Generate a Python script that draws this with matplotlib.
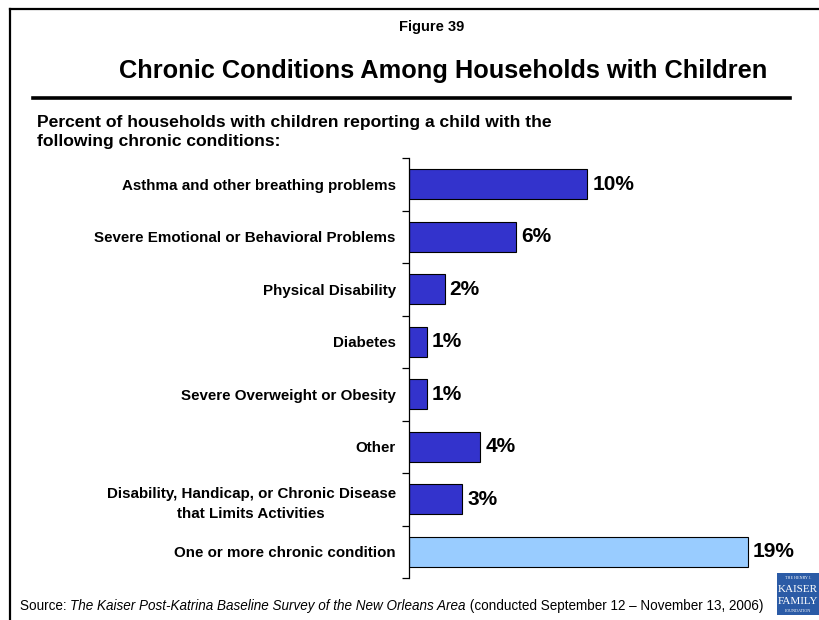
import matplotlib
matplotlib.use("Agg")
import matplotlib.pyplot as plt
from matplotlib.patches import Rectangle
from matplotlib.lines import Line2D

plt.rcParams['font.family'] = ['Liberation Sans', 'DejaVu Sans']

categories = [
    "Asthma and other breathing problems",
    "Severe Emotional or Behavioral Problems",
    "Physical Disability",
    "Diabetes",
    "Severe Overweight or Obesity",
    "Other",
    "Disability, Handicap, or Chronic Disease\nthat Limits Activities",
    "One or more chronic condition",
]
values = [10, 6, 2, 1, 1, 4, 3, 19]
value_labels = ["10%", "6%", "2%", "1%", "1%", "4%", "3%", "19%"]
bar_colors = ["#3333CC"] * 7 + ["#99CCFF"]

W, H = 819, 620
fig = plt.figure(figsize=(W / 100, H / 100), dpi=100)

def fx(px):
    return px / W

def fy(py):
    return 1 - py / H

# frame lines
fig.add_artist(Line2D([fx(10), fx(10)], [fy(9), fy(620)], color="black", lw=1.6))
fig.add_artist(Line2D([fx(10), fx(819)], [fy(9), fy(9)], color="black", lw=1.6))

fig.text(fx(432), fy(27), "Figure 39", ha="center", va="center", fontsize=10.5, fontweight="bold")
fig.text(fx(443), fy(71), "Chronic Conditions Among Households with Children",
         ha="center", va="center", fontsize=18.3, fontweight="bold")
fig.add_artist(Line2D([fx(33), fx(790)], [fy(98), fy(98)], color="black", lw=2.6))
fig.text(fx(37), fy(132), "Percent of households with children reporting a child with the\nfollowing chronic conditions:",
         ha="left", va="center", fontsize=12.6, fontweight="bold", linespacing=1.3)

ax = fig.add_axes([fx(409), fy(578), fx(801) - fx(409), (578 - 158) / H])
n = len(categories)
ypos = list(range(n))
ax.barh(ypos, values, height=0.57, color=bar_colors, edgecolor="black", linewidth=0.8)
ax.set_ylim(n - 0.5, -0.5)
ax.set_xlim(0, 22)
for y, v, lab in zip(ypos, values, value_labels):
    ax.text(v + 0.28, y, lab, ha="left", va="center", fontsize=15, fontweight="bold")

for s in ["top", "right", "bottom"]:
    ax.spines[s].set_visible(False)
ax.spines["left"].set_linewidth(0.9)
ax.set_xticks([])
ax.set_yticks([i - 0.5 for i in range(n + 1)], minor=False)
ax.set_yticklabels([])
ax.tick_params(axis="y", which="major", length=5, width=0.9, direction="out")
ax.set_yticks(ypos, minor=True)
ax.set_yticklabels(categories, minor=True, fontsize=10.9, fontweight="bold", ha="right", linespacing=1.55)
ax.tick_params(axis="y", which="minor", length=0, pad=9.5)
for t in ax.get_yticklabels(minor=True):
    t.set_multialignment("center")

# source line with italic part
fs_src = 9.75
t1 = fig.text(fx(20), fy(606), "Source: ", ha="left", va="center", fontsize=fs_src)
t2 = fig.text(0, 0, "The Kaiser Post-Katrina Baseline Survey of the New Orleans Area", fontsize=fs_src,
              style="italic", ha="left", va="center")
fig.canvas.draw()
r = fig.canvas.get_renderer()
bb = t1.get_window_extent(r)
t2.set_position((bb.x1 / W, fy(606)))
bb2 = t2.get_window_extent(r)
fig.text(bb2.x1 / W, fy(606), " (conducted September 12 \u2013 November 13, 2006)", fontsize=fs_src, ha="left", va="center")

# logo
fig.add_artist(Rectangle((fx(777), fy(615)), fx(819) - fx(777), (615 - 573) / H,
                         facecolor="#2B5BA6", edgecolor="none"))
fig.text(fx(798), fy(578), "THE HENRY J.", color="white", fontsize=3, ha="center", va="center", family="Liberation Serif")
fig.text(fx(798), fy(589), "KAISER", color="white", fontsize=8, ha="center", va="center", family="Liberation Serif")
fig.text(fx(798), fy(601), "FAMILY", color="white", fontsize=8, ha="center", va="center", family="Liberation Serif")
fig.text(fx(798), fy(611), "FOUNDATION", color="white", fontsize=3, ha="center", va="center", family="Liberation Serif")

fig.savefig("out.png", dpi=100)
